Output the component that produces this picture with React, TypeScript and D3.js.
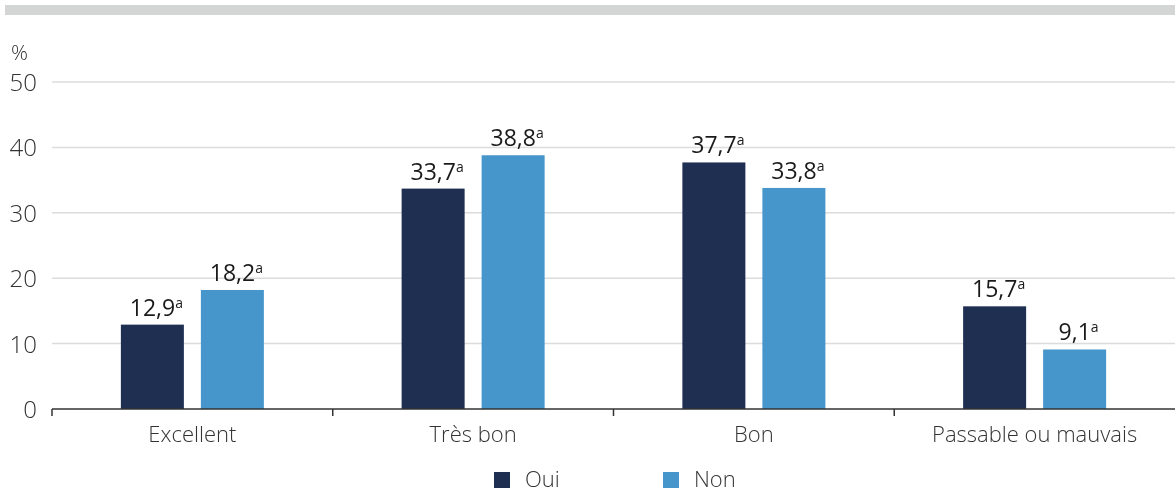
import React from "react";
import * as d3 from "d3";

const categories = ["Excellent", "Très bon", "Bon", "Passable ou mauvais"];
const seriesNames = ["Oui", "Non"];
const ouiValues = [12.9, 33.7, 37.7, 15.7];
const nonValues = [18.2, 38.8, 33.8, 9.1];
const yTicks = [0, 10, 20, 30, 40, 50];
const colors = ["#1e2f52", "#4696cc"];

const W = 1175;
const H = 493;
const left = 52;
const right = 1175;
const top = 82;
const bottom = 409;
const font = "'Open Sans', sans-serif";

const fmt = (v: number) => v.toFixed(1).replace(".", ",");

export default function App() {
  const x = d3.scaleBand<string>().domain(categories).range([left, right]).padding(0);
  const y = d3.scaleLinear().domain([0, 50]).range([bottom, top]);
  const series = [ouiValues, nonValues];
  const bw = 63;
  const offset = 40;

  return (
    <svg
      width={W}
      height={H}
      style={{ position: "fixed", left: 0, top: 0, display: "block", fontFamily: font }}
    >
      <rect x={5} y={5} width={W - 5} height={10} fill="#d4d6d6" />
      <text x={11} y={60} fontSize={21} fontWeight={300} fill="#333">%</text>
      {yTicks.map((t) => (
        <g key={t}>
          {t > 0 && <line x1={left} x2={right} y1={y(t)} y2={y(t)} stroke="#dcdcdc" strokeWidth={1.5} />}
          <text x={37} y={y(t) + 9} fontSize={24} fontWeight={300} textAnchor="end" fill="#333">
            {t}
          </text>
        </g>
      ))}
      {categories.map((c, ci) => (
        <g key={c}>
          {series.map((vals, si) => {
            const cx = (x(c) as number) + x.bandwidth() / 2 + (si === 0 ? -offset : offset);
            const v = vals[ci];
            return (
              <g key={si}>
                <rect x={cx - bw / 2} y={y(v)} width={bw} height={y(0) - y(v)} fill={colors[si]} />
                <text x={cx + 4} y={y(v) - 9} fontSize={23} fontWeight={400} textAnchor="middle" fill="#1a1a1a">
                  {fmt(v)}
                  <tspan fontSize={14} dy={-8}>a</tspan>
                </text>
              </g>
            );
          })}
          <text x={(x(c) as number) + x.bandwidth() / 2} y={442} fontSize={22} fontWeight={300} textAnchor="middle" fill="#333">
            {c}
          </text>
        </g>
      ))}
      <line x1={left} x2={right} y1={bottom} y2={bottom} stroke="#333" strokeWidth={1.5} />
      {[0, 1, 2, 3].map((i) => {
        const xx = left + i * x.bandwidth();
        return <line key={i} x1={xx} x2={xx} y1={bottom} y2={bottom + 7} stroke="#333" strokeWidth={1.5} />;
      })}
      {seriesNames.map((s, i) => (
        <g key={s} transform={`translate(${494 + i * 169},472)`}>
          <rect width={16} height={16} fill={colors[i]} />
          <text x={31} y={15} fontSize={22} fontWeight={300} fill="#333">{s}</text>
        </g>
      ))}
    </svg>
  );
}
